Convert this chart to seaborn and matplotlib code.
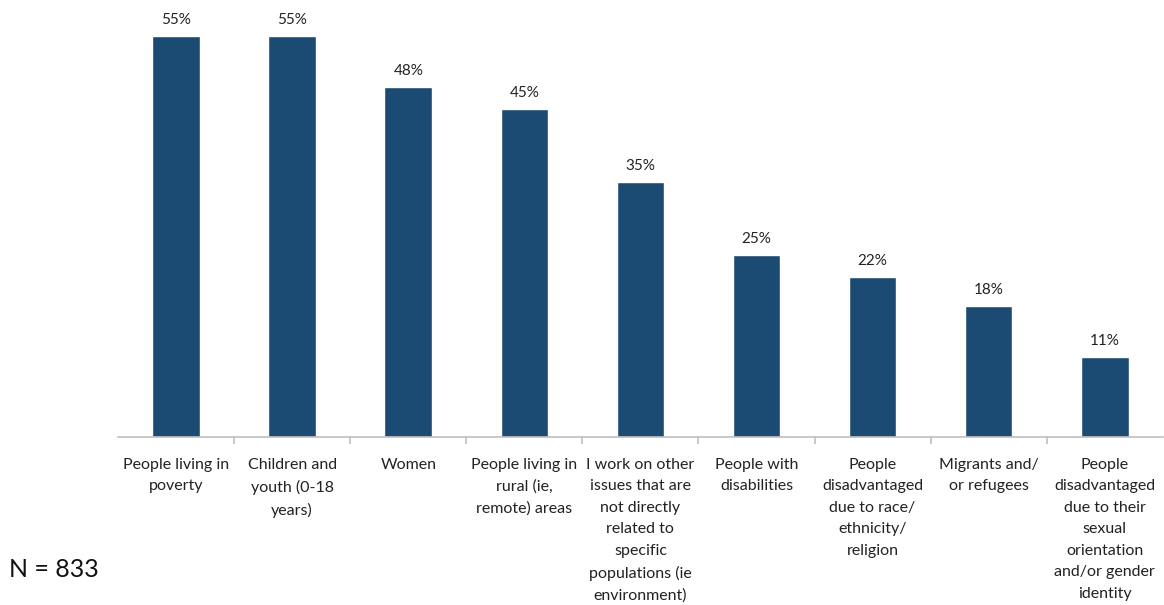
import matplotlib
matplotlib.use("Agg")
import matplotlib.pyplot as plt
import seaborn as sns
import pandas as pd
import numpy as np

categories = [
    "People living in\npoverty",
    "Children and\nyouth (0-18\nyears)",
    "Women",
    "People living in\nrural (ie,\nremote) areas",
    "I work on other\nissues that are\nnot directly\nrelated to\nspecific\npopulations (ie\nenvironment)",
    "People with\ndisabilities",
    "People\ndisadvantaged\ndue to race/\nethnicity/\nreligion",
    "Migrants and/\nor refugees",
    "People\ndisadvantaged\ndue to their\nsexual\norientation\nand/or gender\nidentity",
]
values = [55, 55, 48, 45, 35, 25, 22, 18, 11]

df = pd.DataFrame({"cat": categories, "pct": values})

sns.set_style("white")
plt.rcParams["font.family"] = ["Lato", "DejaVu Sans"]

fig = plt.figure(figsize=(11.64, 6.05), dpi=100)
ax = fig.add_axes([0.1014, 0.2777, 0.8976, 0.7058])

sns.barplot(data=df, x="cat", y="pct", color="#1b4b72", width=0.41,
            saturation=1, ax=ax)

ax.set_ylim(0, 58.6)
ax.set_xlim(-0.5, len(categories) - 0.5)
ax.set_xlabel("")
ax.set_ylabel("")
ax.set_yticks([])
for s in ["top", "right", "left"]:
    ax.spines[s].set_visible(False)
ax.spines["bottom"].set_color("#bfbfbf")
ax.spines["bottom"].set_linewidth(1.2)

ax.set_xticks(range(len(categories)))
ax.set_xticklabels(categories, fontsize=11.5, color="#222222", va="top",
                   linespacing=1.68)
ax.tick_params(axis="x", bottom=True, length=0, pad=15)
# separators between categories
ax.set_xticks(np.arange(0.5, len(categories) - 0.5, 1), minor=True)
ax.tick_params(axis="x", which="minor", bottom=True, length=5,
               color="#bfbfbf", width=1.2)

for i, v in enumerate(values):
    ax.text(i, v + 1.2, f"{v}%", ha="center", va="bottom", fontsize=11,
            color="#222222")

fig.text(0.008, 0.04, "N = 833", fontsize=18, color="#111111", ha="left",
         va="bottom")

fig.savefig("out.png", dpi=100)
